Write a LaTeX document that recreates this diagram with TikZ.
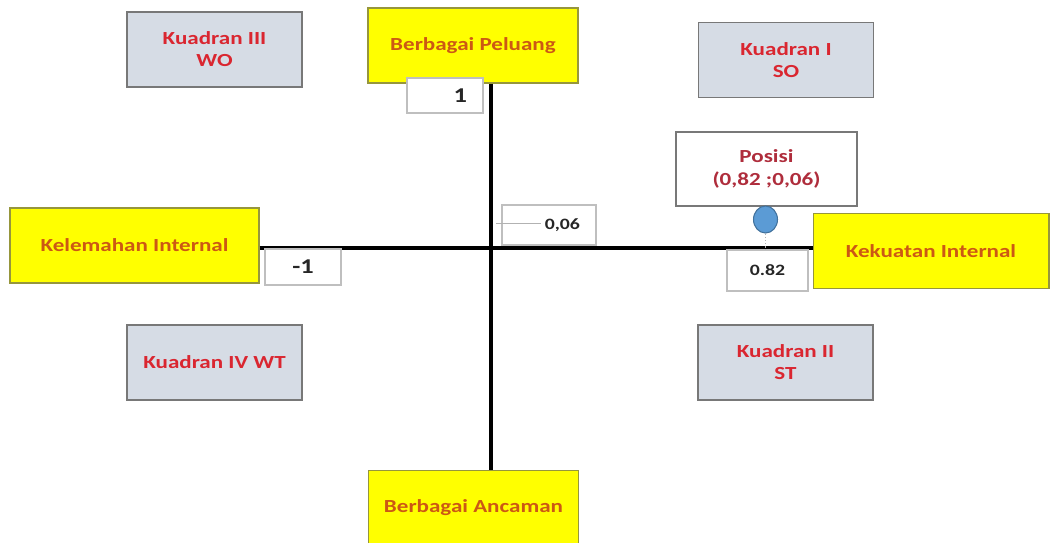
\documentclass[tikz,border=0pt]{standalone}
\usepackage{fontspec}
\setmainfont{Carlito}[FakeStretch=1.25]
\usetikzlibrary{shapes.geometric}
\definecolor{kuadranisi}{RGB}{214,220,229}
\definecolor{kuadrangaris}{RGB}{120,120,120}
\definecolor{kuadranteks}{RGB}{218,38,48}
\definecolor{faktorteks}{RGB}{204,88,20}
\definecolor{faktorgaris}{RGB}{150,150,60}
\definecolor{faktorisi}{RGB}{255,255,0}
\definecolor{posisiteks}{RGB}{175,45,60}
\definecolor{titikisi}{RGB}{91,155,213}
\definecolor{titikgaris}{RGB}{65,113,156}
\begin{document}
\begin{tikzpicture}[x=0.02cm,y=-0.02cm,
		kuadran/.style={draw=kuadrangaris, line width=0.8pt, fill=kuadranisi, text=kuadranteks, font=\fontsize{10.5}{12.5}\selectfont\bfseries, align=center, inner sep=0pt, minimum width=3.5cm, minimum height=1.5cm},
		faktor/.style={draw=faktorgaris, line width=0.6pt, fill=faktorisi, text=faktorteks, font=\fontsize{10.5}{12}\selectfont\bfseries, inner sep=0pt, minimum height=1.5cm},
		nilai/.style={draw=black!25, line width=0.6pt, fill=white, text=black!85, font=\fontsize{9}{10}\selectfont\bfseries, inner sep=0pt}]
		  		\useasboundingbox (0,0) rectangle (1052,542);
		  		\coordinate (O) at (491,248);
		  		
		  		\node[kuadran] (q3) at (214.5,49.5) {Kuadran III\\WO};
		  		\node[kuadran] (q1) at (786,60) {Kuadran I\\SO};
		  		\node[kuadran] (q4) at (214.5,362.5) {Kuadran IV WT};
		  		\node[kuadran] (q2) at (785.5,362.5) {Kuadran II\\ST};
		  		
		  		\node[faktor, minimum width=4.2cm] (peluang) at (473,45.5) {Berbagai Peluang};
		  		\node[faktor, minimum width=4.2cm] (ancaman) at (473.5,508) {Berbagai Ancaman};
		  		\node[faktor, minimum width=4.98cm] (kelemahan) at (134.5,245.5) {Kelemahan Internal};
		  		\node[faktor, minimum width=4.72cm] (kekuatan) at (931,251) {Kekuatan Internal};
		  		
		  		\draw[line width=2.8pt] (O |- peluang.south) -- (O |- ancaman.north);
		  		\draw[line width=2.3pt] (kelemahan.east |- O) -- (kekuatan.west |- O);
		  		
		  		\node[nilai, font=\fontsize{12}{13}\selectfont\bfseries, minimum height=0.7cm, text width=0.88cm, inner xsep=0.32cm, align=right] (satu) at (445,95.5) {1};
		  		\node[nilai, font=\fontsize{12}{13}\selectfont\bfseries, minimum width=1.52cm, minimum height=0.72cm] (minsatu) at (303,267) {-1};
		  		\node[nilai, minimum height=0.8cm, text width=1.24cm, inner xsep=0.32cm, align=right] (v006) at (549,225) {0,06};
		  		\node[nilai, minimum width=1.62cm, minimum height=0.82cm] (v082) at (767.5,270.5) {0.82};
		  		\draw[black!30] ([shift={(-5,-2)}]v006.west) -- ++(45,0);
		  		
		  		\node[draw=kuadrangaris, line width=0.6pt, fill=white, text=posisiteks, font=\fontsize{10.5}{13}\selectfont\bfseries, align=center, inner sep=0pt, minimum width=3.62cm, minimum height=1.48cm] (posisi) at (766.5,169) {Posisi\\(0,82 ;0,06)};
		  		\node[ellipse, draw=titikgaris, line width=0.6pt, fill=titikisi, inner sep=0pt, minimum width=0.48cm, minimum height=0.54cm] (titik) at (765.5,219.5) {};
		  		\draw[black!30, densely dotted, line width=0.8pt] (titik.south) -- (titik.south |- v082.north);
		  	\end{tikzpicture}
\end{document}
